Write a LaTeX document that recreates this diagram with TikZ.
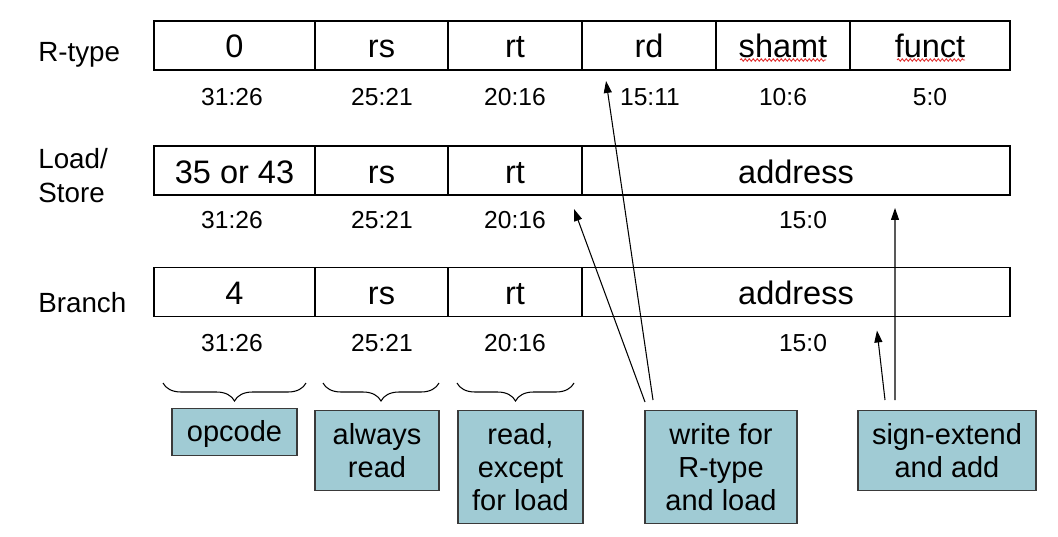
\documentclass[tikz,border=0pt]{standalone}
\usepackage{fontspec}
\setmainfont{Liberation Sans}
\usepackage{tikz}
\usetikzlibrary{arrows.meta,calc,positioning,decorations.pathreplacing,decorations.pathmorphing}
\definecolor{kutuMavi}{HTML}{A0CBD4}
\definecolor{kenarGri}{HTML}{3A3A3A}
\definecolor{dalgaKirmizi}{HTML}{E03030}

\begin{document}
\begin{tikzpicture}[
  fld/.style={draw=black,line width=1.1pt,inner sep=0pt,minimum height=0.98cm,text height=0.5cm,text depth=0cm,font=\fontsize{18.5}{21}\selectfont},
  bits/.style={font=\fontsize{14}{16}\selectfont},
  rowlbl/.style={anchor=base west,align=left,inner sep=0pt,font=\fontsize{15.8}{19}\selectfont},
  note/.style={draw=kenarGri,fill=kutuMavi,line width=0.6pt,anchor=north,align=center,inner sep=0pt,font=\fontsize{16.5}{19}\selectfont},
  ok/.style={-{Triangle[length=0.24cm,width=0.16cm]},line width=0.6pt},
  brc/.style={decorate,decoration={brace,mirror,amplitude=0.36cm},line width=0.6pt},
  dalga/.style={dalgaKirmizi,line width=0.5pt,decorate,decoration={snake,segment length=0.08cm,amplitude=0.025cm}}]
\useasboundingbox (0,0) rectangle (21.16,-10.74);
% R-type
\node[rowlbl] (lr) at (0.76,-1.24) {R-type};
\node[fld,minimum width=3.22cm] (op1) at (4.69,-0.91) {0};
\node[fld,minimum width=2.66cm] (rs1) at (7.63,-0.91) {rs};
\node[fld,minimum width=2.68cm] (rt1) at (10.30,-0.91) {rt};
\node[fld,minimum width=2.68cm] (rd) at (12.98,-0.91) {rd};
\node[fld,minimum width=2.68cm] (sh) at (15.66,-0.91) {shamt};
\node[fld,minimum width=3.20cm] (fn) at (18.60,-0.91) {funct};
\draw[dalga] ([shift={(-0.86,-0.29)}]sh.center) -- ([shift={(0.86,-0.29)}]sh.center);
\draw[dalga] ([shift={(-0.66,-0.29)}]fn.center) -- ([shift={(0.70,-0.29)}]fn.center);
\node[bits] (b11) at (4.64,-1.94) {31:26};
\node[bits] (b12) at (7.64,-1.94) {25:21};
\node[bits] (b13) at (10.30,-1.94) {20:16};
\node[bits] (b14) at (13.00,-1.94) {15:11};
\node[bits] (b15) at (15.66,-1.94) {10:6};
\node[bits] (b16) at (18.60,-1.94) {5:0};
% Load/Store
\node[rowlbl] (lls) at (0.76,-4.04) {Load/\\Store};
\node[fld,minimum width=3.22cm] (op2) at (4.69,-3.41) {35 or 43};
\node[fld,minimum width=2.66cm] (rs2) at (7.63,-3.41) {rs};
\node[fld,minimum width=2.68cm] (rt2) at (10.30,-3.41) {rt};
\node[fld,minimum width=8.56cm] (ad2) at (15.92,-3.41) {address};
\node[bits] (b21) at (4.64,-4.40) {31:26};
\node[bits] (b22) at (7.64,-4.40) {25:21};
\node[bits] (b23) at (10.30,-4.40) {20:16};
\node[bits] (b24) at (16.06,-4.40) {15:0};
% Branch
\node[rowlbl] (lb) at (0.76,-6.24) {Branch};
\node[fld,minimum width=3.22cm] (op3) at (4.69,-5.84) {4};
\node[fld,minimum width=2.66cm] (rs3) at (7.63,-5.84) {rs};
\node[fld,minimum width=2.68cm] (rt3) at (10.30,-5.84) {rt};
\node[fld,minimum width=8.56cm] (ad3) at (15.92,-5.84) {address};
\node[bits] (b31) at (4.64,-6.86) {31:26};
\node[bits] (b32) at (7.64,-6.86) {25:21};
\node[bits] (b33) at (10.30,-6.86) {20:16};
\node[bits] (b34) at (16.06,-6.86) {15:0};
% notes
\draw[brc] (3.26,-7.66) -- (6.12,-7.66);
\draw[brc] (6.46,-7.66) -- (8.78,-7.66);
\draw[brc] (9.14,-7.66) -- (11.48,-7.66);
\node[note,minimum width=2.50cm,minimum height=0.94cm,text height=0.42cm,text depth=0.06cm] (opc) at (4.69,-8.16) {opcode};
\node[note,minimum width=2.48cm,minimum height=1.60cm] (alw) at (7.54,-8.20) {always\\read};
\node[note,minimum width=2.50cm,minimum height=2.26cm] (rdx) at (10.41,-8.20) {read,\\except\\for load};
\node[note,minimum width=3.04cm,minimum height=2.26cm] (wr) at (14.42,-8.20) {write for\\R-type\\and load};
\node[note,minimum width=3.56cm,minimum height=1.60cm] (se) at (18.94,-8.20) {sign-extend\\and add};
\draw[ok] ([shift={(-1.36,0.2)}]wr.north) -- ([shift={(0.5,-0.2)}]rd.south west);
\draw[ok] ([shift={(-1.52,0.16)}]wr.north) -- ([shift={(-0.18,-0.26)}]rt2.south east);
\draw[ok] ([shift={(-1.04,0.2)}]se.north) -- ([shift={(1.98,-0.24)}]ad2.south);
\draw[ok] ([shift={(-1.24,0.2)}]se.north) -- ([shift={(1.62,-0.26)}]ad3.south);
\end{tikzpicture}
\end{document}
